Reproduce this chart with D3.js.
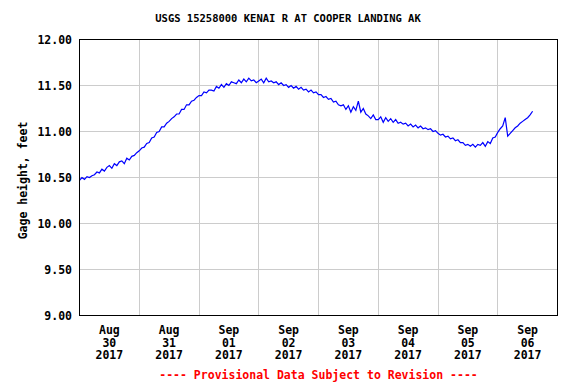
<!DOCTYPE html>
<html>
<head>
<meta charset="utf-8">
<script src="https://d3js.org/d3.v7.min.js"></script>
<style>
  body { margin: 0; background: #fff; }
  svg { display: block; }
  text { font-family: "DejaVu Sans Mono", monospace; font-weight: bold; fill: #000; }
</style>
</head>
<body>
<svg id="chart" width="576" height="384"></svg>
<script>
// --- chart data: hourly gage height (feet), one array per day ---
const title = 'USGS 15258000 KENAI R AT COOPER LANDING AK';
const yLabel = 'Gage height, feet';
const footer = '---- Provisional Data Subject to Revision ----';
const startDate = new Date(2017, 7, 30, 0, 0);
const endDate = new Date(2017, 8, 7, 0, 0);
const yTicks = [9.0, 9.5, 10.0, 10.5, 11.0, 11.5, 12.0];
const dayLabels = [
    ['Aug', '30', '2017'], ['Aug', '31', '2017'], ['Sep', '01', '2017'], ['Sep', '02', '2017'],
    ['Sep', '03', '2017'], ['Sep', '04', '2017'], ['Sep', '05', '2017'], ['Sep', '06', '2017']
];

const aug30 = [10.47, 10.50, 10.48, 10.51, 10.50, 10.52, 10.53, 10.56, 10.55, 10.59, 10.57, 10.61,
               10.63, 10.60, 10.65, 10.63, 10.67, 10.68, 10.65, 10.71, 10.69, 10.73, 10.74, 10.77];
const aug31 = [10.79, 10.82, 10.83, 10.87, 10.88, 10.93, 10.94, 10.99, 11.00, 11.05, 11.05, 11.09,
               11.11, 11.14, 11.16, 11.19, 11.19, 11.24, 11.24, 11.29, 11.29, 11.33, 11.34, 11.37];
const sep01 = [11.39, 11.39, 11.43, 11.42, 11.45, 11.45, 11.44, 11.49, 11.47, 11.51, 11.48, 11.52,
               11.50, 11.54, 11.53, 11.52, 11.56, 11.53, 11.57, 11.54, 11.58, 11.55, 11.56, 11.53];
const sep02 = [11.55, 11.57, 11.53, 11.58, 11.54, 11.55, 11.53, 11.54, 11.51, 11.53, 11.50, 11.51,
               11.48, 11.50, 11.47, 11.49, 11.46, 11.48, 11.45, 11.46, 11.43, 11.45, 11.42, 11.43];
const sep03 = [11.40, 11.40, 11.37, 11.38, 11.35, 11.36, 11.32, 11.33, 11.29, 11.28, 11.29, 11.24,
               11.28, 11.21, 11.27, 11.23, 11.33, 11.21, 11.25, 11.19, 11.17, 11.14, 11.18, 11.13];
const sep04 = [11.13, 11.16, 11.10, 11.15, 11.11, 11.14, 11.10, 11.13, 11.09, 11.10, 11.08, 11.09,
               11.06, 11.08, 11.05, 11.07, 11.04, 11.06, 11.03, 11.04, 11.02, 11.03, 11.00, 11.01];
const sep05 = [10.98, 10.96, 10.97, 10.94, 10.95, 10.92, 10.93, 10.90, 10.91, 10.88, 10.88, 10.85,
               10.86, 10.84, 10.86, 10.83, 10.86, 10.85, 10.88, 10.84, 10.89, 10.87, 10.93, 10.94];
const sep06 = [10.99, 11.03, 11.06, 11.15, 10.95, 10.98, 11.01, 11.04, 11.06, 11.09, 11.11, 11.13,
               11.15, 11.18, 11.22];

(function() {
    'use strict';

    const W = 576, H = 384;
    const M = { left: 79.5, right: 557.5, top: 39.5, bottom: 315.5 };

    const svg = d3.select('#chart');

    // flatten day arrays into hourly points
    const days = [aug30, aug31, sep01, sep02, sep03, sep04, sep05, sep06];
    const points = [];
    days.forEach((vals, di) => {
        vals.forEach((v, hi) => {
            points.push({ t: d3.timeHour.offset(startDate, di * 24 + hi), v: v });
        });
    });

    const x = d3.scaleTime().domain([startDate, endDate]).range([M.left, M.right]);
    const y = d3.scaleLinear().domain([9, 12]).range([M.bottom, M.top]);

    // --- grid ---
    const grid = svg.append('g').attr('shape-rendering', 'crispEdges');
    grid.selectAll('.hgrid')
        .data(yTicks.slice(1, -1))
        .enter().append('line')
        .attr('x1', M.left).attr('x2', M.right)
        .attr('y1', d => y(d)).attr('y2', d => y(d))
        .attr('stroke', '#cccccc').attr('stroke-width', 1);

    const dayTicks = d3.timeDay.range(d3.timeDay.offset(startDate, 1), endDate);
    grid.selectAll('.vgrid')
        .data(dayTicks)
        .enter().append('line')
        .attr('y1', M.top).attr('y2', M.bottom)
        .attr('x1', d => x(d)).attr('x2', d => x(d))
        .attr('stroke', '#cccccc').attr('stroke-width', 1);

    // --- data line ---
    const line = d3.line()
        .x(d => x(d.t))
        .y(d => y(d.v));

    svg.append('path')
        .datum(points)
        .attr('d', line)
        .attr('fill', 'none')
        .attr('stroke', '#0000ff')
        .attr('stroke-width', 1.2);

    // --- frame ---
    svg.append('rect')
        .attr('x', M.left).attr('y', M.top)
        .attr('width', M.right - M.left).attr('height', M.bottom - M.top)
        .attr('fill', 'none').attr('stroke', '#000').attr('stroke-width', 1)
        .attr('shape-rendering', 'crispEdges');

    // --- y axis labels ---
    svg.selectAll('.ylab')
        .data(yTicks)
        .enter().append('text')
        .attr('x', 72).attr('y', d => y(d))
        .attr('dy', '0.35em')
        .attr('text-anchor', 'end')
        .style('font-size', '11.5px')
        .text(d => d3.format('.2f')(d));

    svg.append('text')
        .attr('transform', 'translate(27,' + ((M.top + M.bottom) / 2 + 3) + ') rotate(-90)')
        .attr('text-anchor', 'middle')
        .style('font-size', '11.5px')
        .text(yLabel);

    // --- x axis labels (centered at noon of each day) ---
    const xl = svg.selectAll('.xlab')
        .data(dayLabels)
        .enter().append('text')
        .attr('text-anchor', 'middle')
        .style('font-size', '11.5px');
    xl.each(function(d, i) {
        const cx = x(d3.timeHour.offset(startDate, i * 24 + 12));
        d3.select(this).selectAll('tspan')
            .data(d)
            .enter().append('tspan')
            .attr('x', cx)
            .attr('y', (s, j) => 334 + j * 12.7)
            .text(s => s);
    });

    // --- title and footer ---
    svg.append('text')
        .attr('x', W / 2).attr('y', 22)
        .attr('text-anchor', 'middle')
        .style('font-size', '10.5px')
        .text(title);

    svg.append('text')
        .attr('x', (M.left + M.right) / 2).attr('y', 379)
        .attr('text-anchor', 'middle')
        .style('font-size', '11.5px')
        .style('fill', '#ff0000')
        .text(footer);
})();
</script>
</body>
</html>
